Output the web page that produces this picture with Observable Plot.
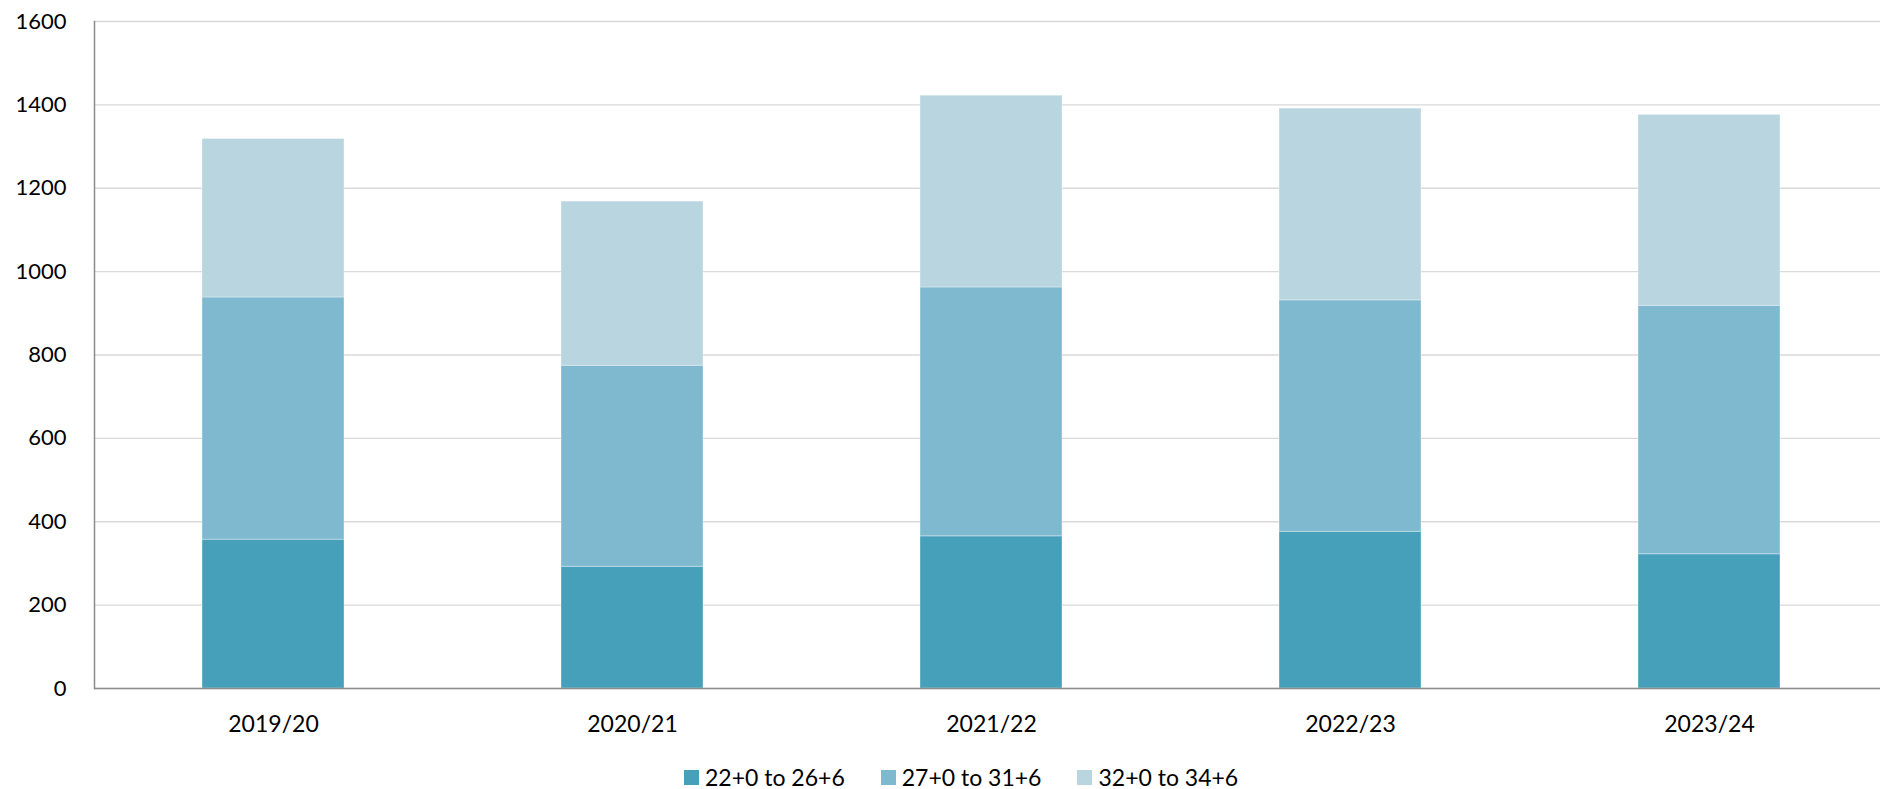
<!DOCTYPE html>
<html>
<head>
<meta charset="utf-8">
<script src="https://cdn.jsdelivr.net/npm/d3@7"></script>
<script src="https://cdn.jsdelivr.net/npm/@observablehq/plot@0.6"></script>
<style>
  html, body { margin: 0; padding: 0; background: #ffffff; overflow: hidden; }
  #chart svg { display: block; }
  #legend { display: flex; align-items: center; height: 24px; margin-top: 13px; padding-left: 684px;
            font-family: Lato, "Open Sans", sans-serif; font-size: 23px; color: #000; }
  .item { display: flex; align-items: center; margin-right: 36px; }
  .sw { width: 15px; height: 15px; margin-right: 6px; }
</style>
</head>
<body>
<div id="chart"></div>
<div id="legend"></div>
<script>
const years = ["2019/20", "2020/21", "2021/22", "2022/23", "2023/24"];
const series = ["22+0 to 26+6", "27+0 to 31+6", "32+0 to 34+6"];
const weeks22to26 = [357, 292, 365, 376, 322];
const weeks27to31 = [581, 482, 597, 555, 596];
const weeks32to34 = [380, 394, 460, 460, 458];
const colors = ["#47a0b9", "#7eb9d0", "#b8d5e0"];
const yTicks = [0, 200, 400, 600, 800, 1000, 1200, 1400, 1600];

const valuesBySeries = [weeks22to26, weeks27to31, weeks32to34];
const rows = [];
series.forEach((s, si) => {
  years.forEach((y, yi) => rows.push({year: y, series: s, value: valuesBySeries[si][yi]}));
});

const chart = Plot.plot({
  width: 1880,
  height: 752,
  marginTop: 21,
  marginBottom: 64,
  marginLeft: 94,
  marginRight: 0,
  style: {fontFamily: "Lato, 'Open Sans', sans-serif", color: "#000", background: "transparent"},
  x: {domain: years, range: [92.5, 1888.7], paddingInner: 0.605, paddingOuter: 0.3025, label: null},
  y: {domain: [0, 1600], label: null},
  color: {domain: series, range: colors},
  marks: [
    Plot.gridY(yTicks, {stroke: "#d9d9d9", strokeOpacity: 1, strokeWidth: 1.3}),
    Plot.barY(rows, {x: "year", y: "value", fill: "series", stroke: "#ffffff", strokeOpacity: 0.35, strokeWidth: 1, inset: 0}),
    Plot.axisY({ticks: yTicks, tickFormat: d => String(d), tickSize: 0, tickPadding: 28, fontSize: 22, label: null}),
    Plot.axisX({tickSize: 0, tickPadding: 27, fontSize: 23, label: null}),
    Plot.ruleY([0], {stroke: "#8c8c8c", strokeWidth: 1.5}),
    Plot.frame({anchor: "left", stroke: "#8c8c8c", strokeWidth: 1.5})
  ]
});
document.getElementById("chart").appendChild(chart);

const legend = document.getElementById("legend");
series.forEach((s, i) => {
  const item = document.createElement("div");
  item.className = "item";
  const sw = document.createElement("div");
  sw.className = "sw";
  sw.style.background = colors[i];
  const t = document.createElement("span");
  t.textContent = s;
  item.appendChild(sw);
  item.appendChild(t);
  legend.appendChild(item);
});
</script>
</body>
</html>
